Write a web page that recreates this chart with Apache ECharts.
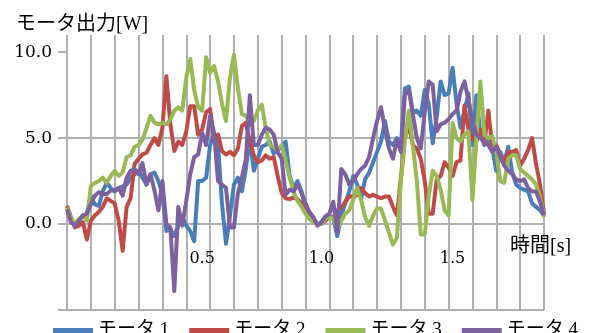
<!DOCTYPE html>
<html><head><meta charset="utf-8">
<script src="https://cdn.jsdelivr.net/npm/echarts@6/dist/echarts.min.js"></script>
<style>html,body{margin:0;padding:0;background:#fff}#c{width:602px;height:333px}</style>
</head><body><div id="c"></div>
<script>
const seriesNames = ['モータ 1', 'モータ 2', 'モータ 3', 'モータ 4'];
const seriesColors = ['#4A7EBB', '#BE4B48', '#98B954', '#7D60A0'];

const motor1 = [0.95,0.3,-0.1,0.2,0.5,0.6,1.65,1.15,1.05,1.9,2.4,2.1,1.9,2.1,2.2,2.3,2.7,2.9,3.1,2.7,2.3,2.9,3.0,2.5,1.75,-0.4,-0.3,-0.7,-0.1,0.4,-0.1,-0.4,-1.0,2.5,2.5,2.7,4.6,5.3,4.6,1.15,-1.15,
0.5,2.3,2.7,1.9,3.2,5.0,3.1,3.8,4.5,4.6,4.8,4.1,4.3,4.5,4.8,2.8,2.1,2.5,1.9,1.0,0.5,0.3,0.0,0.1,0.2,0.5,0.3,-0.7,0.5,1.2,1.9,2.8,2.3,1.5,2.6,3.0,3.6,4.2,4.8,6.0,
4.8,4.6,5.0,4.6,7.9,8.0,6.5,6.6,6.3,7.8,7.0,4.7,6.2,8.3,7.5,7.6,9.1,7.0,5.6,6.6,7.6,4.6,7.5,5.2,4.6,4.8,4.4,3.1,4.2,3.6,4.5,3.0,2.3,2.1,2.0,1.9,1.2,1.0,0.8,0.5];

const motor2 = [1.06,0.4,-0.2,-0.1,0.1,-0.9,0.2,0.5,0.7,1.0,1.5,1.35,1.2,0.2,-1.55,1.0,1.5,3.5,3.8,4.05,4.15,4.6,5.0,4.6,5.6,8.6,5.8,4.25,4.8,4.6,5.4,6.85,6.85,5.2,5.5,6.5,6.7,4.9,5.2,4.25,4.05,
4.2,4.0,4.4,5.7,5.9,4.8,4.0,3.6,3.7,4.0,3.8,3.9,2.8,1.8,1.5,1.45,1.55,1.45,1.2,0.9,0.55,0.2,0.0,0.0,0.2,0.4,0.4,0.8,0.95,1.3,1.6,1.6,1.7,2.1,1.8,1.6,1.7,1.6,1.5,1.6,
1.6,1.0,0.5,2.7,5.0,5.8,4.6,4.4,3.8,2.5,0.6,0.6,2.6,2.8,3.6,3.3,2.8,3.6,3.7,6.9,5.5,5.0,4.8,5.5,4.7,6.6,4.5,4.6,4.0,3.6,4.2,4.2,4.3,3.4,3.8,4.3,5.0,3.5,2.3,0.6];

const motor3 = [0.95,0.4,0,0.3,0.5,0.2,2.2,2.4,2.5,2.7,2.4,2.8,3.1,2.8,3.0,3.9,4.0,4.5,4.6,4.9,5.6,6.3,5.9,5.8,5.9,5.8,6.1,6.6,6.8,6.6,8.5,9.6,7.8,6.8,6.6,9.7,8.8,9.2,8.3,7.0,6.0,
8.5,9.85,7.9,6.4,6.3,5.8,6.0,6.6,6.95,5.6,4.6,4.5,4.25,4.6,3.7,2.7,1.9,1.35,1.0,0.6,0.3,0.1,0.0,0.0,0.3,0.4,0.3,-0.3,0.2,0.6,0.8,1.4,2.1,1.4,0.4,-0.1,0.5,0.9,0.9,0.2,
-0.5,-1.2,-0.8,2.5,4.8,6.6,4.6,2.5,-0.6,-0.6,1.6,3.1,2.8,2.0,0.8,0.5,5.9,5.0,4.8,5.2,5.4,1.4,5.0,8.3,5.2,5.0,5.1,4.2,2.5,2.4,3.8,4.0,4.0,3.2,3.0,2.8,2.6,2.3,1.6,0.4];

const motor4 = [0.85,0.1,-0.1,0.2,0.5,0.6,1.15,1.65,1.85,1.75,1.75,1.95,1.95,2.1,1.65,2.7,3.1,3.2,2.9,3.55,2.3,2.9,1.95,0.8,2.5,0,-0.2,-3.9,1.0,-0.1,1.35,2.9,3.9,4.05,5.3,4.6,6.3,5.3,2.5,2.3,2.1,
-0.2,-0.2,1.8,2.7,3.8,7.5,4.6,4.6,5.2,5.6,5.5,5.2,4.2,3.8,1.7,2.0,1.9,2.3,1.8,1.2,0.7,0.4,-0.1,0.1,0.45,0.6,1.3,-0.5,3.2,2.9,2.3,2.5,2.9,3.2,3.4,3.9,5.0,6.0,6.8,5.5,
4.4,3.8,4.9,4.2,7.5,7.8,6.4,5.0,4.4,6.5,8.3,8.1,5.4,5.8,5.9,6.1,6.4,6.6,7.7,8.3,7.2,6.0,5.2,5.0,4.8,4.6,4.2,4.5,3.9,3.4,3.1,2.9,2.6,2.5,2.6,2.1,1.9,1.9,1.3,0.5];

const xTickLabels = ['0.5', '1.0', '1.5'];
const xTickIdx = [34, 64, 97];
const yTickValues = [-5, 0, 5, 10];
const yLabelValues = [0, 5, 10];

const allSeries = [motor1, motor2, motor3, motor4];
const categories = motor1.map((_, i) => String(i));

const numFont = "'DejaVu Serif', 'Liberation Serif', serif";
const jpFont = "'Liberation Serif', 'Noto Sans CJK JP', serif";
const gridColor = '#b0b0b0';

const chart = echarts.init(document.getElementById('c'), null, { renderer: 'canvas' });
chart.setOption({
  animation: false,
  backgroundColor: '#ffffff',
  title: {
    text: 'モータ出力[W]', left: 11, top: 10,
    textStyle: { fontSize: 20, fontWeight: 'normal', color: '#000', fontFamily: jpFont }
  },
  legend: {
    data: seriesNames, left: 48, top: 316, icon: 'rect', itemWidth: 40, itemHeight: 5, itemGap: 20,
    textStyle: { fontSize: 19, color: '#000', fontFamily: jpFont }
  },
  grid: { left: 67, right: 58, top: 35, bottom: 23, containLabel: false, outerBoundsMode: 'none' },
  xAxis: {
    type: 'category', data: categories, boundaryGap: false, position: 'bottom', offset: -86,
    name: '時間[s]', nameLocation: 'end', nameGap: -34,
    nameTextStyle: { fontSize: 20, color: '#000', fontFamily: jpFont, align: 'left', verticalAlign: 'top', padding: [13, 0, 0, 0] },
    axisLine: { onZero: false, lineStyle: { color: gridColor, width: 2 } },
    axisTick: { show: true, interval: 29, length: 8, lineStyle: { color: gridColor, width: 2 } },
    axisLabel: {
      interval: (i) => xTickIdx.includes(i),
      formatter: (v, i) => { const k = xTickIdx.indexOf(i); return k >= 0 ? xTickLabels[k] : ''; },
      margin: 27, fontSize: 16, color: '#000', fontFamily: numFont
    },
    splitLine: { show: true, interval: 5, lineStyle: { color: gridColor, width: 2 } }
  },
  yAxis: {
    type: 'value', min: -5, max: 11, interval: 5,
    axisLine: { show: false },
    axisTick: { show: true, customValues: yTickValues, length: 9, lineStyle: { color: gridColor, width: 2 } },
    axisLabel: { customValues: yLabelValues, formatter: (v) => v.toFixed(1), margin: 15, fontSize: 17, color: '#000', fontFamily: numFont },
    splitLine: { show: true, showMaxLine: false, lineStyle: { color: gridColor, width: 2 } }
  },
  series: allSeries.map((d, k) => ({
    name: seriesNames[k], type: 'line', data: d, showSymbol: false, symbol: 'none',
    lineStyle: { color: seriesColors[k], width: 4, join: 'round' }, itemStyle: { color: seriesColors[k] }
  }))
});
</script>
</body></html>
